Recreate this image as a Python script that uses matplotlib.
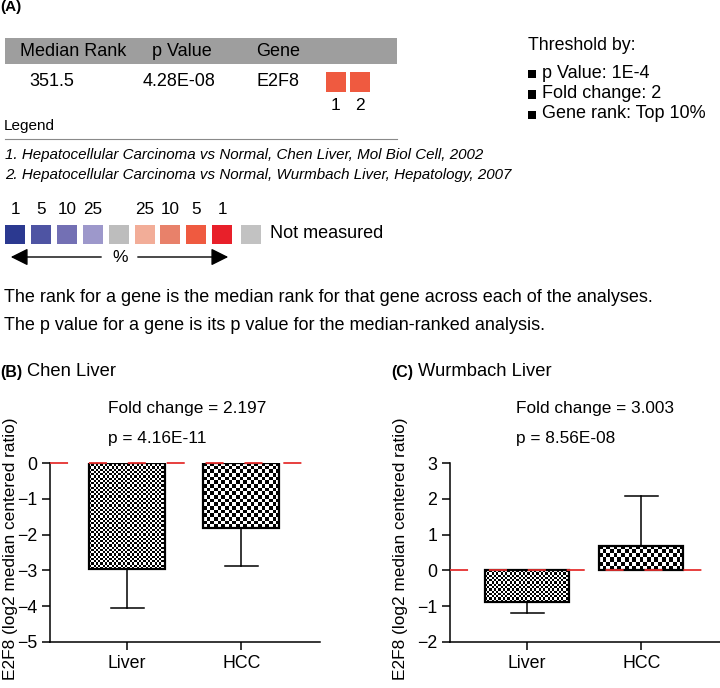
import numpy as np
import matplotlib
matplotlib.use("Agg")
import matplotlib.pyplot as plt
from matplotlib.patches import Rectangle, FancyArrowPatch
from matplotlib.lines import Line2D

plt.rcParams['font.family'] = ['Liberation Sans', 'DejaVu Sans']
plt.rcParams['lines.scale_dashes'] = False

# ---- data ----
header = ['Median Rank', 'p Value', 'Gene']
row = ['351.5', '4.28E-08', 'E2F8']
analysis_colors = ['#ef5a40', '#ef5a40']
analysis_ids = ['1', '2']
studies = ['1. Hepatocellular Carcinoma vs Normal, Chen Liver, Mol Biol Cell, 2002',
           '2. Hepatocellular Carcinoma vs Normal, Wurmbach Liver, Hepatology, 2007']
scale_labels = ['1', '5', '10', '25', '', '25', '10', '5', '1']
scale_colors = ['#2b3990', '#4e54a3', '#7370b4', '#9d98cb', '#bdbdbd',
                '#f2ad98', '#e8816a', '#ef5a40', '#e8202a']
na_color = '#c2c2c2'
thresholds = ['p Value: 1E-4', 'Fold change: 2', 'Gene rank: Top 10%']

categories = ['Liver', 'HCC']
chen_mean = [-2.97, -1.82]
chen_err = [1.08, 1.06]
wurm_mean = [-0.88, 0.68]
wurm_err = [0.30, 1.40]

W, H = 720, 688
fig = plt.figure(figsize=(W / 100, H / 100), dpi=100)


def px(x, y):
    return x / W, 1 - y / H


def txt(x, y, s, **kw):
    kw.setdefault('va', 'center')
    kw.setdefault('ha', 'left')
    kw.setdefault('fontsize', 12)
    fig.text(*px(x, y), s, **kw)


def rect(x, y, w, h, color, **kw):
    fig.add_artist(Rectangle(px(x, y + h), w / W, h / H, transform=fig.transFigure,
                             facecolor=color, edgecolor='none', **kw))


# ---- panel A ----
txt(0, 7, '(A)', fontweight='bold', fontsize=11)
rect(5, 38, 392, 26, '#9e9e9e')
for s, x in zip(header, [20, 152, 256]):
    txt(x, 51, s, fontsize=13)
for s, x in zip(row, [29, 143, 257]):
    txt(x, 82, s, fontsize=13)
for i, (c, lab) in enumerate(zip(analysis_colors, analysis_ids)):
    x0 = 326 + i * 24
    rect(x0, 72, 20, 20, c)
    txt(x0 + 10, 105, lab, ha='center', fontsize=12.5)
txt(4, 126, 'Legend', fontsize=11)
fig.add_artist(Line2D([5 / W, 397 / W], [1 - 139 / H] * 2, color='#8a8a8a', lw=0.8))
for i, s in enumerate(studies):
    txt(5, 155 + i * 20, s, fontsize=10.9, style='italic')

for i, (c, lab) in enumerate(zip(scale_colors, scale_labels)):
    x0 = 5 + i * 25.9
    rect(x0, 225, 20, 19, c)
    if lab:
        txt(x0 + 10, 209, lab, ha='center', fontsize=12.3)
rect(241, 225, 20, 19, na_color)
txt(270, 234, 'Not measured', fontsize=13)
for a, b in [((104, 257), (8, 257)), ((135, 257), (231, 257))]:
    fig.add_artist(FancyArrowPatch(px(*a), px(*b), transform=fig.transFigure,
                                   arrowstyle='-|>,head_length=7,head_width=3.5',
                                   color='black', lw=1, mutation_scale=1.5))
txt(120, 257, '%', ha='center', fontsize=12.5)
txt(4, 297, 'The rank for a gene is the median rank for that gene across each of the analyses.', fontsize=13)
txt(4, 326, 'The p value for a gene is its p value for the median-ranked analysis.', fontsize=13)

txt(528, 46, 'Threshold by:', fontsize=12.8)
for i, s in enumerate(thresholds):
    y = 73 + i * 20.5
    rect(528, y - 3, 8, 8, 'black')
    txt(542, y, s, fontsize=13)


# ---- panels B, C ----
def checker(ax, bar, cell):
    x0, y0 = bar.get_x(), bar.get_y()
    w, h = bar.get_width(), bar.get_height()
    p0 = ax.transData.transform((x0, y0))
    p1 = ax.transData.transform((x0 + w, y0 + h))
    nx = max(1, int(abs(p1[0] - p0[0]) / cell))
    ny = max(1, int(abs(p1[1] - p0[1]) / cell))
    img = np.indices((ny, nx)).sum(axis=0) % 2
    im = ax.imshow(img, cmap='gray', vmin=0, vmax=1, interpolation='nearest', aspect='auto',
                   extent=(x0, x0 + w, min(y0, y0 + h), max(y0, y0 + h)), zorder=1)
    im.set_clip_path(bar)


def panel(left, means, errs, ylim, width):
    ax = fig.add_axes([left / W, 1 - 642 / H, 270 / W, 179 / H])
    ax.set_xlim(-0.675, 1.69)
    ax.set_ylim(*ylim)
    x = np.arange(len(categories))
    bars = ax.bar(x, means, width=width, facecolor='none', edgecolor='black', lw=1.6, zorder=2)
    for b, cell in zip(bars, [2.2, 3.6]):
        checker(ax, b, cell)
    for xi, m, e in zip(x, means, errs):
        end = m + np.sign(m) * e
        ax.plot([xi, xi], [m, end], color='black', lw=1.1, zorder=1.5)
        ax.plot([xi - 0.145, xi + 0.145], [end, end], color='black', lw=1.1, zorder=1.5)
    ax.axhline(0, color='#e5302f', lw=1.3, dashes=(13, 15), zorder=3, clip_on=False)
    ax.set_xlim(-0.675, 1.69)
    ax.set_ylim(*ylim)
    ax.set_yticks(np.arange(ylim[0], ylim[1] + 1))
    ax.set_xticks(x)
    ax.set_xticklabels(categories)
    for s in ['top', 'right']:
        ax.spines[s].set_visible(False)
    for s in ['left', 'bottom']:
        ax.spines[s].set_linewidth(1.1)
    ax.tick_params(labelsize=12.8, width=1.1, length=6, pad=3)
    return ax


ylab = 'E2F8 (log2 median centered ratio)'

ax_b = panel(50, chen_mean, chen_err, (-5, 0), 0.667)
txt(0, 372, '(B)', fontweight='bold', fontsize=11.5)
txt(27, 372, 'Chen Liver', fontsize=13.2)
txt(108, 409, 'Fold change = 2.197', fontsize=12.4)
txt(108, 439, 'p = 4.16E-11', fontsize=12.4)
fig.text(*px(11, 418), ylab, rotation=90, ha='center', va='top', fontsize=12.4)

ax_c = panel(450, wurm_mean, wurm_err, (-2, 3), 0.74)
txt(391, 372, '(C)', fontweight='bold', fontsize=11.5)
txt(418, 372, 'Wurmbach Liver', fontsize=13.2)
txt(516, 409, 'Fold change = 3.003', fontsize=12.4)
txt(516, 439, 'p = 8.56E-08', fontsize=12.4)
fig.text(*px(400, 418), ylab, rotation=90, ha='center', va='top', fontsize=12.4)

fig.savefig('out.png', dpi=100)
